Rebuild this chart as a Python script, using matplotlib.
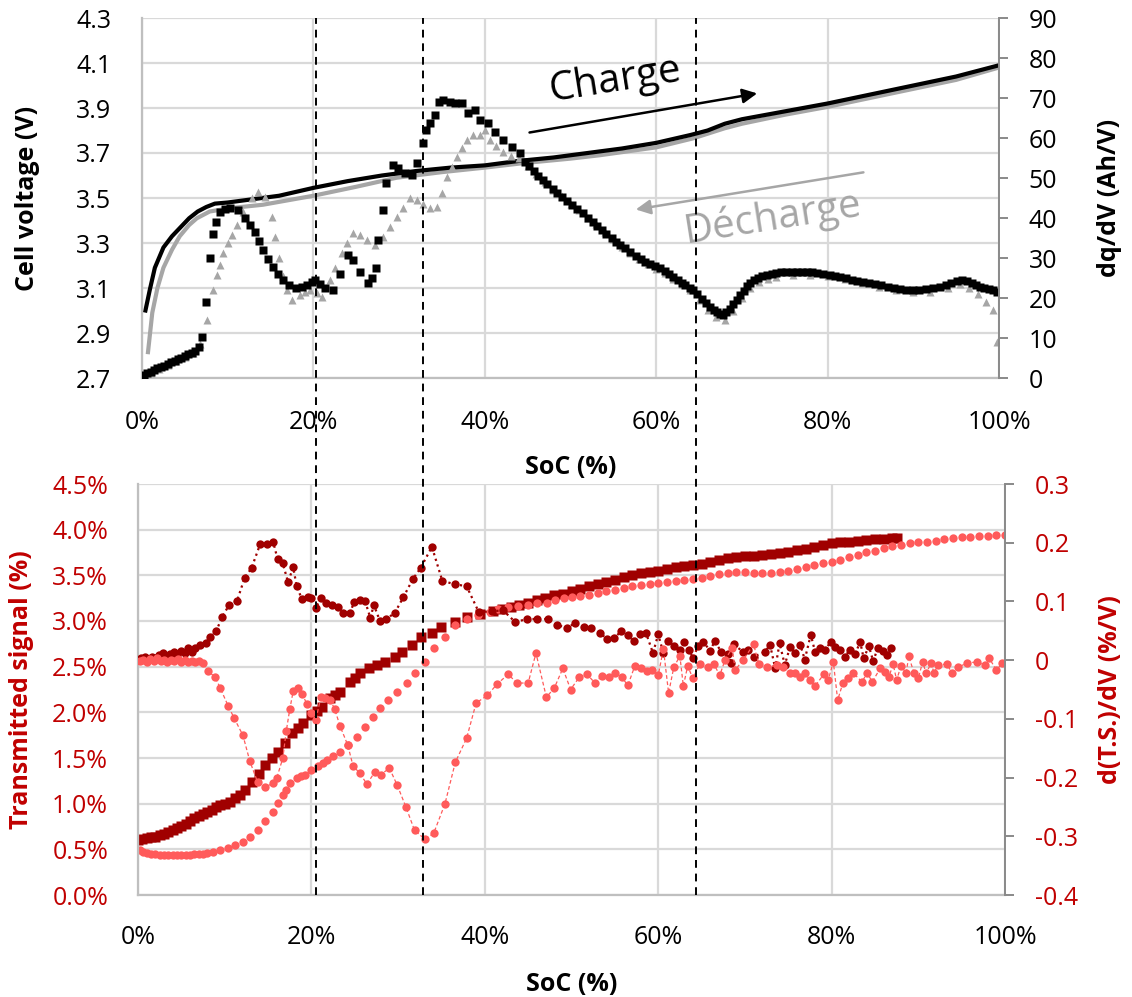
import matplotlib
matplotlib.use("Agg")
import matplotlib.pyplot as plt
from matplotlib.lines import Line2D
from matplotlib.transforms import blended_transform_factory

plt.rcParams['font.family'] = ['Open Sans', 'DejaVu Sans']

# ---------------- top panel data ----------------
soc_v_ch = [0.4, 0.9, 1.5, 2.5, 3.5, 4.5, 5.5, 6.5, 7.5, 8.5, 10, 12, 16, 20, 24, 28, 32,
            36, 40, 44, 48, 52, 56, 60, 64, 66, 68, 70, 75, 80, 85, 90, 95, 100]
v_ch = [3.00, 3.09, 3.19, 3.28, 3.33, 3.37, 3.41, 3.44, 3.46, 3.475, 3.48, 3.49, 3.51, 3.545,
        3.575, 3.60, 3.62, 3.635, 3.645, 3.665, 3.68, 3.70, 3.72, 3.745, 3.78, 3.80, 3.83,
        3.85, 3.885, 3.92, 3.96, 4.00, 4.04, 4.09]

soc_v_dis = [0.7, 1.2, 1.8, 2.5, 3.5, 4.4, 5.5, 6.4, 7.9, 10.3, 14.1, 20, 25, 29.7, 35, 40,
             44.5, 50, 53.4, 60, 64.3, 68, 70, 75, 80, 85, 90, 95, 100]
v_dis = [2.815, 2.99, 3.10, 3.19, 3.27, 3.33, 3.38, 3.41, 3.44, 3.455, 3.47, 3.51, 3.55, 3.59,
         3.615, 3.635, 3.655, 3.675, 3.69, 3.725, 3.765, 3.81, 3.83, 3.87, 3.905, 3.945,
         3.985, 4.025, 4.08]

soc_dq_ch = [0.2, 0.6, 1.0, 1.4, 1.8, 2.2, 2.6, 3.0, 3.4, 3.8, 4.2, 4.6, 5.0, 5.4, 5.8, 6.2,
             6.6, 7.0, 7.5, 7.9, 8.3, 8.6, 9.1, 9.7, 10.3, 11.2, 12.0, 12.6, 13.2, 13.7, 14.1,
             14.7, 15.3, 15.9, 16.5, 17.2, 18.0, 18.7, 19.3, 19.8, 20.2, 20.8, 21.4, 22.3,
             23.1, 24.0, 24.6, 25.4, 26.4, 26.8, 27.3, 27.5, 28.1, 28.5, 29.3, 29.9, 30.7,
             31.5, 32.1, 32.8, 33.1, 33.6, 34.2, 34.6, 35.1, 35.9, 36.5, 37.3, 38.0, 38.9,
             39.4, 40.4, 41.2, 42.1, 43.2, 44.1, 44.7, 45.2, 45.7, 46.2, 46.8, 47.3, 47.9,
             48.4, 49.0, 49.6, 50.2, 50.8, 51.5, 52.0, 52.6, 53.1, 53.7, 54.2, 54.8, 55.3,
             55.8, 56.4, 57.0, 57.6, 58.2, 58.7, 59.3, 59.9, 60.4, 61.0, 61.5, 62.0, 62.5,
             63.0, 63.4, 63.9, 64.3, 64.8, 65.3, 65.8, 66.3, 66.7, 67.1, 67.5, 67.8, 68.2,
             68.6, 69.0, 69.4, 69.8, 70.2, 70.6, 70.9, 71.4, 71.9, 72.4, 72.9, 73.5, 74.0,
             74.6, 75.2, 75.8, 76.4, 77.0, 77.6, 78.2, 78.8, 79.5, 80.3, 80.9, 81.5, 82.2,
             82.8, 83.4, 84.1, 84.8, 85.5, 86.2, 87.0, 87.7, 88.5, 89.2, 90.0, 90.7, 91.5,
             92.3, 93.1, 93.8, 94.4, 95.1, 95.7, 96.3, 96.8, 97.3, 97.8, 98.3, 98.8, 99.3, 99.8]
dq_ch = [0.8, 1.2, 1.6, 2.0, 2.4, 2.8, 3.1, 3.5, 3.9, 4.3, 4.7, 5.1, 5.5, 5.9, 6.3, 6.8,
         7.8, 10.3, 19, 30, 36, 39, 41.5, 42.3, 42.5, 42, 40, 38.3, 36.5, 34.3, 32,
         29.8, 27.8, 26, 24.5, 23.3, 22.5, 22.8, 23.2, 24, 24.5, 23.5, 22.5, 22,
         26, 30.8, 29.5, 26.5, 23.8, 25, 27.5, 34.5, 42, 48.8, 53.3, 52.5, 51.3,
         50.8, 53.8, 58.8, 62, 63.8, 65.8, 69, 69.5, 69, 68.8, 68.8, 66.3, 67,
         64.5, 63.8, 61.5, 59.5, 57.8, 56.3, 54, 52.9, 51.8, 50.6, 49.5, 48.4, 47.3,
         46.3, 45.3, 44.3, 43.3, 42.3, 41.3, 40.1, 39, 38, 37, 36, 35, 34.1,
         33.3, 32.4, 31.5, 30.6, 29.8, 29.1, 28.5, 28, 27.5, 26.7, 26, 25.3, 24.5,
         23.8, 23.2, 22.6, 22, 20.9, 19.8, 18.8, 17.8, 17.1, 16.5, 16.1, 15.8, 16.4,
         17.3, 18.4, 19.5, 20.7, 21.8, 22.9, 23.8, 24.5, 25, 25.4, 25.8, 26.1, 26.3,
         26.4, 26.5, 26.5, 26.5, 26.5, 26.5, 26.4, 26.3, 26.1, 25.8, 25.6, 25.3, 25,
         24.6, 24.3, 24, 23.8, 23.5, 23.2, 22.8, 22.5, 22.3, 22.1, 22, 22, 22.2,
         22.5, 22.8, 23.3, 23.8, 24.2, 24.5, 24.3, 23.8, 23.3, 22.8, 22.5, 22.2, 21.9, 21.5]

soc_dq_dis = [0.3, 1.0, 2.0, 3.0, 4.0, 5.0, 6.0, 6.8, 7.6, 8.3, 8.7, 9.1, 9.5, 10.0, 10.5,
              11.1, 11.8, 12.8, 13.5, 14.4, 15.2, 15.5, 16.0, 16.5, 16.9, 17.5, 18.4, 19.0,
              19.6, 20.4, 21.0, 21.9, 22.5, 23.3, 23.9, 24.6, 25.4, 26.2, 27.2, 28.1, 28.9,
              29.7, 30.5, 31.3, 32.1, 32.8, 33.6, 34.4, 35.0, 35.6, 36.2, 36.8, 37.3, 37.9,
              38.6, 39.4, 40.0, 40.6, 41.3, 42.1, 43.0, 44.0, 45.0, 46.0, 47.0, 48.0, 49.0,
              50.0, 51.0, 52.0, 53.0, 54.0, 55.0, 56.0, 57.0, 58.0, 59.0, 60.0, 61.0, 62.0,
              63.0, 64.0, 65.0, 66.0, 67.0, 68.0, 69.0, 70.0, 71.0, 72.0, 73.0, 74.0, 76.0,
              78.0, 80.0, 82.0, 84.0, 86.0, 88.0, 90.0, 92.0, 94.0, 95.5, 96.5, 97.5, 98.5,
              99.3, 99.8]
dq_dis = [0.5, 1.2, 2.2, 3.2, 4.2, 5.2, 6.3, 8.5, 14.5, 22, 25.8, 28.3, 31.3, 33.8, 35.8,
          38.3, 41.5, 45, 46.5, 45.3, 40.3, 35.3, 30, 25.5, 22, 19.5, 20.8, 21.5,
          22, 21.3, 20.3, 24.5, 27.5, 31.3, 33.8, 36.3, 35.8, 34.5, 33.3, 35.3, 37.8,
          40.3, 42.5, 45, 44.5, 43.5, 42.5, 42.8, 46.3, 50.3, 52.8, 55.3, 57.5, 59.5,
          60.8, 60.8, 62, 59.5, 58, 56.5, 55.5, 55, 53, 51, 49, 47, 45.5,
          43.5, 42, 40, 38.5, 36.5, 34.8, 32.8, 31.2, 29.8, 28.5, 27.2, 26.2, 24.8,
          23.5, 22, 19.5, 17, 15.2, 14.5, 16.8, 20, 22.5, 24, 24.8, 25.3, 25.8,
          25.8, 25.5, 24.8, 23.8, 22.8, 22, 21.5, 21.5, 22.5, 23.5, 22.5, 21, 19,
          17, 9]

# ---------------- bottom panel data ----------------
soc_ts_ch = [0.0, 0.5, 1.0, 1.5, 2.0, 2.5, 3.0, 3.5, 4.0, 4.5, 5.0, 5.5, 6.0, 6.5, 7.0, 7.5,
             8.0, 8.5, 9.0, 9.5, 10.0, 10.6, 11.2, 11.8, 12.3, 13.1, 14.0, 14.7, 15.5, 16.1,
             16.9, 17.8, 18.4, 19.0, 20.0, 20.6, 21.2, 22.1, 22.7, 23.3, 24.4, 25.0, 25.6,
             26.7, 27.6, 28.5, 29.6, 30.4, 31.6, 32.6, 33.9, 35.0, 36.6, 38.0, 39.5, 40.9,
             42.0, 43.0, 44.0, 45.0, 46.0, 47.0, 48.0, 49.0, 50.0, 51.0, 52.0, 53.0, 54.0,
             55.0, 56.0, 57.0, 58.0, 59.0, 60.0, 61.0, 62.0, 63.0, 64.0, 65.0, 66.0, 67.0,
             68.0, 69.0, 70.0, 71.0, 72.0, 73.0, 74.0, 75.0, 76.0, 77.0, 78.0, 79.0, 80.0,
             81.0, 82.0, 83.0, 84.0, 85.0, 86.0, 87.0, 87.5]
ts_ch = [0.60, 0.61, 0.62, 0.63, 0.64, 0.66, 0.67, 0.69, 0.71, 0.73, 0.76, 0.78, 0.81, 0.84,
         0.86, 0.89, 0.91, 0.93, 0.96, 0.98, 1.00, 1.02, 1.06, 1.10, 1.15, 1.24, 1.33, 1.42,
         1.50, 1.57, 1.66, 1.77, 1.83, 1.88, 1.97, 2.02, 2.06, 2.16, 2.19, 2.22, 2.33, 2.38,
         2.43, 2.49, 2.52, 2.55, 2.61, 2.66, 2.74, 2.83, 2.87, 2.93, 2.99, 3.04, 3.08, 3.11,
         3.13, 3.15, 3.17, 3.20, 3.23, 3.25, 3.28, 3.30, 3.33, 3.35, 3.38, 3.40, 3.43,
         3.45, 3.48, 3.50, 3.53, 3.54, 3.55, 3.57, 3.59, 3.60, 3.61, 3.62, 3.65, 3.67,
         3.69, 3.70, 3.71, 3.71, 3.72, 3.73, 3.74, 3.76, 3.78, 3.79, 3.81, 3.83, 3.85,
         3.86, 3.87, 3.88, 3.89, 3.90, 3.90, 3.91, 3.91]

soc_ts_dis = [0.2, 0.6, 1.0, 1.5, 2.0, 2.5, 3.0, 3.5, 4.0, 4.5, 5.0, 5.5, 6.0, 6.5, 7.0, 7.5,
              8.0, 8.7, 9.5, 10.4, 11.2, 12.1, 12.9, 13.8, 14.6, 15.6, 16.1, 16.7, 17.1,
              17.5, 18.3, 18.8, 19.3, 20.0, 20.8, 21.3, 21.8, 22.5, 23.3, 24.2, 25.3, 26.2,
              27.1, 27.9, 28.8, 29.9, 31.0, 31.9, 33.1, 34.1, 35.4, 36.6, 37.9, 39.2, 40.6,
              41.5, 42.7, 43.8, 45.0, 46.0, 47.2, 48.1, 49.1, 50.0, 51.0, 52.0, 53.0, 54.0,
              55.0, 56.0, 57.0, 58.0, 59.0, 60.0, 61.0, 62.0, 63.0, 64.0, 65.0, 66.0, 67.0,
              68.0, 69.0, 70.0, 71.0, 72.0, 73.0, 74.0, 75.0, 76.0, 77.0, 78.0, 79.0, 80.0,
              81.0, 82.0, 83.0, 84.0, 85.0, 86.0, 87.0, 88.0, 89.0, 90.0, 91.0, 92.0, 93.0,
              94.0, 95.0, 96.0, 97.0, 98.0, 99.0, 100.0]
ts_dis = [0.49, 0.47, 0.46, 0.45, 0.45, 0.44, 0.44, 0.44, 0.44, 0.44, 0.44, 0.44, 0.44, 0.45,
          0.45, 0.45, 0.46, 0.47, 0.49, 0.51, 0.55, 0.58, 0.64, 0.71, 0.81, 0.91, 1.01, 1.09,
          1.15, 1.23, 1.28, 1.30, 1.31, 1.37, 1.41, 1.45, 1.48, 1.52, 1.57, 1.64, 1.73, 1.84,
          1.95, 2.05, 2.14, 2.22, 2.32, 2.43, 2.55, 2.70, 2.83, 2.96, 3.02, 3.07, 3.10,
          3.13, 3.15, 3.16, 3.18, 3.20, 3.20, 3.23, 3.25, 3.26, 3.27, 3.29, 3.31, 3.33,
          3.34, 3.36, 3.38, 3.39, 3.40, 3.42, 3.43, 3.44, 3.45, 3.46, 3.47, 3.49, 3.51,
          3.53, 3.54, 3.54, 3.53, 3.53, 3.53, 3.54, 3.55, 3.57, 3.59, 3.61, 3.63, 3.65,
          3.67, 3.70, 3.72, 3.75, 3.77, 3.80, 3.82, 3.83, 3.85, 3.86, 3.87, 3.88, 3.90,
          3.91, 3.92, 3.92, 3.93, 3.93, 3.94, 3.94]

soc_d_ch = [0.0, 0.4, 0.8, 1.2, 1.6, 2.0, 2.4, 2.9, 3.3, 3.7, 4.1, 4.5, 5.0, 5.4, 5.8, 6.2,
            6.6, 7.2, 7.8, 8.3, 9.0, 9.7, 10.5, 11.4, 12.3, 13.1, 14.1, 14.9, 15.6, 16.1,
            16.7, 17.3, 17.9, 18.3, 18.9, 19.6, 20.0, 20.5, 21.1, 21.7, 22.4, 23.1, 23.7,
            24.5, 24.9, 25.6, 26.2, 26.8, 27.2, 27.9, 28.6, 29.6, 30.6, 31.7, 32.6, 33.9,
            35.1, 36.6, 37.9, 39.3, 40.8, 42.1, 43.5, 44.9, 46.0, 47.3, 48.3, 49.5, 50.4,
            51.4, 52.3, 53.3, 54.1, 54.9, 55.7, 56.5, 57.2, 57.9, 58.6, 59.4, 60.0, 60.6,
            61.1, 61.8, 62.5, 63.0, 63.6, 64.0, 64.6, 65.2, 66.0, 66.5, 67.3, 68.0, 68.4,
            68.7, 69.8, 70.4, 71.0, 72.3, 72.9, 73.5, 74.0, 74.6, 75.2, 75.8, 76.4, 76.9,
            77.6, 78.1, 78.7, 79.2, 79.9, 80.4, 81.0, 81.5, 82.1, 82.7, 83.3, 83.7, 84.3,
            84.8, 85.3, 85.9, 86.4, 86.9]
d_ch = [0.0, 0.003, 0.005, 0.002, 0.006, 0.004, 0.008, 0.012, 0.006, 0.010, 0.014, 0.008,
        0.016, 0.012, 0.020, 0.014, 0.020, 0.026, 0.029, 0.039, 0.049, 0.073, 0.094, 0.100,
        0.140, 0.157, 0.198, 0.198, 0.201, 0.172, 0.165, 0.133, 0.158, 0.126, 0.104, 0.107,
        0.105, 0.089, 0.105, 0.097, 0.094, 0.090, 0.081, 0.081, 0.099, 0.102, 0.100, 0.072,
        0.094, 0.067, 0.070, 0.080, 0.107, 0.138, 0.157, 0.193, 0.135, 0.129, 0.126, 0.082,
        0.083, 0.085, 0.065, 0.070, 0.070, 0.070, 0.060, 0.055, 0.063, 0.056, 0.054, 0.046,
        0.036, 0.037, 0.049, 0.043, 0.032, 0.044, 0.046, 0.012, 0.044, 0.012, 0.032, 0.024,
        0.018, 0.031, 0.017, 0.003, 0.024, 0.031, 0.016, 0.032, 0.014, 0.010, -0.005, 0.027,
        0.014, 0.018, 0.006, 0.014, 0.026, -0.014, 0.029, -0.008, 0.022, 0.012, 0.026, 0.001,
        0.043, 0.014, 0.020, 0.017, 0.031, 0.022, 0.018, 0.006, 0.017, 0.010, 0.031, 0.003,
        0.024, -0.002, 0.020, 0.016, 0.008, 0.020]

soc_d_dis = [0.2, 0.6, 1.0, 1.4, 1.8, 2.2, 2.6, 3.0, 3.4, 3.8, 4.2, 4.6, 5.0, 5.4, 5.8, 6.2,
             6.6, 7.0, 7.5, 8.1, 8.9, 9.5, 10.4, 11.1, 12.1, 12.9, 13.8, 14.6, 15.6, 16.0,
             16.7, 17.1, 17.5, 17.9, 18.5, 18.9, 19.5, 20.0, 20.5, 21.1, 21.6, 22.2, 22.7,
             23.3, 24.2, 24.8, 25.6, 26.4, 27.3, 28.0, 29.0, 29.9, 30.9, 31.9, 33.1, 34.1,
             35.4, 36.6, 37.9, 39.0, 40.3, 41.4, 42.7, 43.7, 45.0, 45.9, 47.1, 48.0, 49.0,
             49.9, 50.9, 51.8, 52.7, 53.5, 54.3, 55.0, 55.8, 56.5, 57.3, 58.0, 58.7, 59.3,
             60.0, 60.6, 61.2, 61.8, 62.5, 62.9, 63.4, 64.0, 64.8, 65.7, 66.4, 67.1, 67.7,
             68.5, 68.9, 69.8, 71.0, 71.6, 72.5, 73.7, 74.4, 75.2, 75.8, 76.4, 76.9, 77.5,
             78.1, 79.1, 79.6, 80.2, 80.7, 81.3, 81.9, 82.5, 83.5, 84.1, 84.7, 85.6, 86.2,
             86.6, 87.1, 87.5, 88.0, 88.6, 88.9, 89.5, 90.0, 90.5, 90.9, 91.5, 91.8, 92.3,
             93.3, 93.9, 94.6, 95.6, 96.8, 97.7, 98.2, 99.0, 99.7]
d_dis = [-0.002, 0.001, -0.003, 0.002, -0.001, 0.003, -0.002, 0.001, -0.003, 0.0, -0.002,
         0.002, -0.004, 0.0, -0.003, -0.001, -0.004, -0.002, -0.005, -0.019, -0.029, -0.048,
         -0.078, -0.099, -0.128, -0.172, -0.208, -0.216, -0.210, -0.201, -0.167, -0.121,
         -0.084, -0.053, -0.048, -0.057, -0.075, -0.090, -0.102, -0.063, -0.065, -0.068,
         -0.084, -0.112, -0.145, -0.180, -0.193, -0.211, -0.191, -0.195, -0.184, -0.213,
         -0.250, -0.290, -0.305, -0.295, -0.245, -0.174, -0.133, -0.073, -0.060, -0.041,
         -0.024, -0.039, -0.039, 0.012, -0.063, -0.048, -0.014, -0.050, -0.029, -0.024,
         -0.039, -0.027, -0.029, -0.022, -0.029, -0.043, -0.010, -0.014, -0.019, -0.017,
         -0.026, 0.019, -0.056, -0.012, 0.007, -0.044, -0.010, -0.031, -0.007, -0.012,
         -0.006, -0.026, 0.000, 0.020, -0.016, 0.000, 0.027, -0.006, -0.012, -0.009, -0.012,
         -0.022, -0.022, -0.029, -0.022, -0.034, -0.044, -0.024, -0.034, -0.003, -0.068,
         -0.039, -0.031, -0.022, -0.037, -0.022, -0.037, -0.014, -0.020, -0.029, -0.007,
         -0.034, -0.010, -0.022, 0.007, -0.022, -0.031, -0.003, -0.022, -0.005, -0.022,
         -0.008, -0.007, -0.022, -0.012, -0.005, -0.003, -0.009, 0.003, -0.017, -0.005]

transitions = [20.3, 32.8, 64.6]

soc_ticks = [0, 20, 40, 60, 80, 100]
v_ticks = [2.7, 2.9, 3.1, 3.3, 3.5, 3.7, 3.9, 4.1, 4.3]
dq_ticks = [0, 10, 20, 30, 40, 50, 60, 70, 80, 90]
ts_ticks = [0.0, 0.5, 1.0, 1.5, 2.0, 2.5, 3.0, 3.5, 4.0, 4.5]
d_ticks = [-0.4, -0.3, -0.2, -0.1, 0.0, 0.1, 0.2, 0.3]
d_labels = ['-0.4', '-0.3', '-0.2', '-0.1', '0', '0.1', '0.2', '0.3']

GRID = '#D9D9D9'
SPINE = '#BFBFBF'
DARK = '#898989'
RED_TXT = '#C00000'
RED_DARK = '#A00000'
RED_LIGHT = '#FF5A5A'
GRAY = '#A6A6A6'
FS = 18
LFS = 18

fig = plt.figure(figsize=(11.32, 9.97), dpi=100)

# ---------------- top panel ----------------
ax1 = fig.add_axes([142/1132, 1 - 378/997, 857/1132, 360/997])
ax2 = ax1.twinx()

ax1.plot(soc_v_dis, v_dis, color=GRAY, lw=3)
ax1.plot(soc_v_ch, v_ch, color='black', lw=3)
ax2.plot(soc_dq_dis, dq_dis, '^', color=GRAY, ms=5.5, mec='none')
ax2.plot(soc_dq_ch, dq_ch, 's', color='black', ms=5.3, mec='none')

ax1.set_xlim(0, 100)
ax1.set_ylim(2.7, 4.3)
ax2.set_ylim(0, 90)
ax1.set_xticks(soc_ticks)
ax1.set_xticklabels([f'{t}%' for t in soc_ticks])
ax1.set_yticks(v_ticks)
ax1.set_yticklabels([f'{t:.1f}' for t in v_ticks])
ax2.set_yticks(dq_ticks)
ax1.grid(True, color=GRID, lw=1.6)
ax1.set_axisbelow(True)

ax1.annotate('', xy=(72.1, 3.967), xytext=(44.9, 3.789),
             arrowprops=dict(arrowstyle='-|>', color='black', lw=1.8, mutation_scale=22))
ax1.text(55.2, 4.02, 'Charge', fontsize=29, rotation=9, ha='center', va='center')
ax1.annotate('', xy=(57.3, 3.447), xytext=(84.5, 3.616),
             arrowprops=dict(arrowstyle='-|>', color=GRAY, lw=1.8, mutation_scale=22))
ax1.text(73.5, 3.41, 'Décharge', fontsize=29, rotation=9, ha='center', va='center', color=GRAY)

# ---------------- bottom panel ----------------
ax3 = fig.add_axes([138/1132, 1 - 895/997, 867/1132, 411/997])
ax4 = ax3.twinx()

ax3.plot(soc_ts_ch, ts_ch, 's', color=RED_DARK, ms=6.5, mec='none')
ax3.plot(soc_ts_dis, ts_dis, 'o', color=RED_LIGHT, ms=6, mec='none')
ax4.plot(soc_d_ch, d_ch, ':', color=RED_DARK, lw=1.6, marker='o', ms=6, mec='none')
ax4.plot(soc_d_dis, d_dis, '--', color=RED_LIGHT, lw=0.9, marker='o', ms=6, mec='none',
         dashes=(3, 2))

ax3.set_xlim(0, 100)
ax3.set_ylim(0, 4.5)
ax4.set_ylim(-0.4, 0.3)
ax3.set_xticks(soc_ticks)
ax3.set_xticklabels([f'{t}%' for t in soc_ticks])
ax3.set_yticks(ts_ticks)
ax3.set_yticklabels([f'{t:.1f}%' for t in ts_ticks])
ax4.set_yticks(d_ticks)
ax4.set_yticklabels(d_labels)
ax3.grid(True, color=GRID, lw=1.6)
ax3.set_axisbelow(True)

# ---------------- shared styling ----------------
for ax_l, ax_r, pad_l, pad_x in [(ax1, ax2, 22, 23), (ax3, ax4, 21.5, 21.5)]:
    for s in ['top', 'right']:
        ax_l.spines[s].set_visible(False)
    for s in ['left', 'bottom']:
        ax_l.spines[s].set_color(SPINE)
        ax_l.spines[s].set_linewidth(1.6)
    for s in ['top', 'left', 'bottom']:
        ax_r.spines[s].set_visible(False)
    ax_r.spines['right'].set_color(DARK)
    ax_r.spines['right'].set_linewidth(1.4)
    ax_l.tick_params(axis='y', length=0, pad=pad_l, labelsize=FS)
    ax_l.tick_params(axis='x', length=0, pad=pad_x, labelsize=FS)
    ax_r.tick_params(axis='y', length=6.5, width=1.4, color=DARK, pad=15, labelsize=FS)

ax3.tick_params(axis='y', labelcolor=RED_TXT)
ax4.tick_params(axis='y', labelcolor=RED_TXT)

ax1.set_ylabel('Cell voltage (V)', fontsize=LFS, fontweight='bold')
ax1.yaxis.set_label_coords(-0.119, 0.5)
ax2.set_ylabel('dq/dV (Ah/V)', fontsize=LFS, fontweight='bold')
ax2.yaxis.set_label_coords(1.114, 0.5)
ax1.set_xlabel('SoC (%)', fontsize=LFS, fontweight='bold')
ax1.xaxis.set_label_coords(0.5, -0.214)

ax3.set_ylabel('Transmitted signal (%)', fontsize=LFS, fontweight='bold', color=RED_TXT)
ax3.yaxis.set_label_coords(-0.12, 0.5)
ax4.set_ylabel('d(T.S.)/dV (%/V)', fontsize=LFS, fontweight='bold', color=RED_TXT)
ax4.yaxis.set_label_coords(1.107, 0.5)
ax3.set_xlabel('SoC (%)', fontsize=LFS, fontweight='bold')
ax3.xaxis.set_label_coords(0.5, -0.187)

# vertical dashed markers spanning both panels
trans = blended_transform_factory(ax1.transData, fig.transFigure)
y_top = ax1.get_position().y1
y_bot = ax3.get_position().y0
for x in transitions:
    fig.add_artist(Line2D([x, x], [y_bot, y_top], transform=trans, color='black',
                          lw=1.4, dashes=(4, 3)))

fig.savefig('out.png', dpi=100)
